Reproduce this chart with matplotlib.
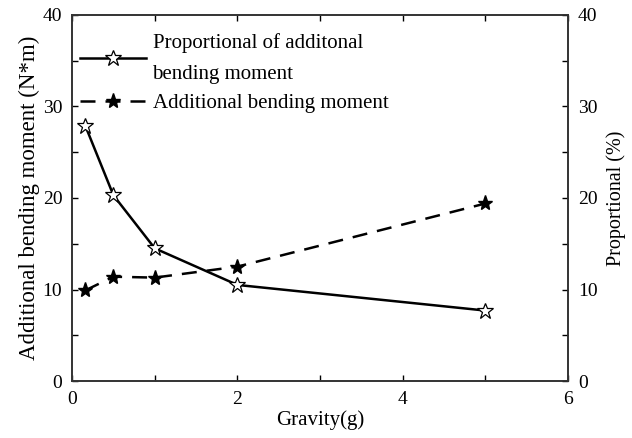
import matplotlib
matplotlib.use('Agg')
import matplotlib.pyplot as plt
from matplotlib.ticker import MultipleLocator

# data
gravity = [0.16, 0.5, 1, 2, 5]
proportional = [27.9, 20.3, 14.5, 10.5, 7.7]   # %
bending_moment = [9.9, 11.4, 11.3, 12.5, 19.4]  # N*m

plt.rcParams['font.family'] = ['Liberation Serif', 'DejaVu Serif']
plt.rcParams['font.size'] = 14

fig = plt.figure(figsize=(6.32, 4.38), dpi=100)
ax = fig.add_axes([0.114, 0.130, 0.785, 0.836])
ax2 = ax.twinx()

l2, = ax.plot(gravity, bending_moment, color='black', linewidth=1.8, linestyle=(0, (6, 4)),
              marker='*', markersize=11, markerfacecolor='black', markeredgecolor='black',
              label='Additional bending moment')
l1, = ax2.plot(gravity, proportional, color='black', linewidth=1.8,
               marker='*', markersize=12, markerfacecolor='white', markeredgecolor='black',
               markeredgewidth=0.9, label='Proportional of additonal\nbending moment')

for a in (ax, ax2):
    a.set_ylim(0, 40)
    a.yaxis.set_major_locator(MultipleLocator(10))
    a.yaxis.set_minor_locator(MultipleLocator(5))
    a.tick_params(which='both', direction='in', length=4, width=1, pad=7)
    for s in a.spines.values():
        s.set_linewidth(1.2)
        s.set_color('#333333')
ax.set_xlim(0, 6)
ax.xaxis.set_major_locator(MultipleLocator(2))
ax.xaxis.set_minor_locator(MultipleLocator(1))
ax.tick_params(which='both', top=True)

ax.set_xlabel('Gravity(g)', fontsize=15, labelpad=2)
ax.set_ylabel('Additional bending moment (N*m)', fontsize=16.5, labelpad=2)
ax2.set_ylabel('Proportional (%)', fontsize=14.5, labelpad=6)

leg = ax.legend([l1, l2], [l1.get_label(), l2.get_label()], loc='upper left',
                bbox_to_anchor=(-0.01, 0.985), frameon=False, handlelength=3.2,
                handletextpad=0.3, labelspacing=0.45, borderaxespad=0.2, fontsize=15)
for t in leg.get_texts():
    t.set_linespacing(1.9)

plt.savefig('out.png', dpi=100, facecolor='white')
